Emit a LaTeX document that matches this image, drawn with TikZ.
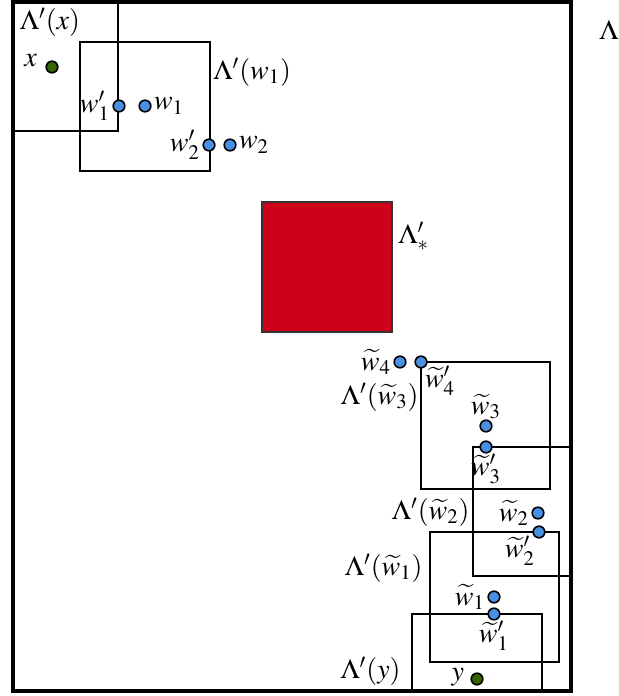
\documentclass[tikz,border=0pt]{standalone}
\usepackage{mathptmx}
\usetikzlibrary{positioning}
\definecolor{DotBlue}{RGB}{74, 144, 226}
\definecolor{DotGreen}{RGB}{51, 102, 0}
\definecolor{BlockRed}{RGB}{206, 0, 26}

\begin{document}
\begin{tikzpicture}[
    x=0.5pt, y=-0.5pt,
    font=\fontsize{14}{16}\selectfont,
    frame/.style={
        draw=black,
        line width=2pt             % Thick outer border
    },
    window/.style={
        draw=black,
        line width=0.9pt
    },
    block/.style={
        draw=black!80,
        fill=BlockRed,
        line width=0.7pt
    },
    bluedot/.style={
        circle,
        draw=black,
        fill=DotBlue,
        line width=0.8pt,
        minimum size=5.8pt,
        inner sep=0pt
    },
    greendot/.style={
        bluedot,
        fill=DotGreen
    },
    label_text/.style={
        inner sep=1pt,
        text=black
    }
]
    \useasboundingbox (0,0) rectangle (619,696);

    % --- 1. Windows ---
    \draw[window] (13,2) rectangle (118,131);     % Lambda'(x)
    \draw[window] (80,42) rectangle (210,171);    % Lambda'(w_1)
    \draw[window] (421,362) rectangle (550,489);  % Lambda'(w~_3)
    \draw[window] (473,447) rectangle (571,576);  % Lambda'(w~_2)
    \draw[window] (430,532) rectangle (559,662);  % Lambda'(w~_1)
    \draw[window] (412,614) rectangle (542,691);  % Lambda'(y)

    % --- 2. Central block and frame ---
    \draw[block] (262,202) rectangle (392,332);
    \draw[frame] (13,2) rectangle (571,691);

    % --- 3. Points ---
    \node[greendot] (x) at (52,67) {};
    \node[bluedot] (w1p) at (119,106) {};
    \node[bluedot] (w1) at (145,106) {};
    \node[bluedot] (w2p) at (209,145) {};
    \node[bluedot] (w2) at (230,145) {};

    \node[bluedot] (tw4) at (400,362) {};
    \node[bluedot] (tw4p) at (421,362) {};
    \node[bluedot] (tw3) at (486,426) {};
    \node[bluedot] (tw3p) at (486,447) {};
    \node[bluedot] (tw2) at (538,513) {};
    \node[bluedot] (tw2p) at (539,532) {};
    \node[bluedot] (tw1) at (494,597) {};
    \node[bluedot] (tw1p) at (494,614) {};
    \node[greendot] (y) at (477,679) {};

    % --- 4. Point labels ---
    \node[label_text, left=3pt of x, yshift=3pt] {$x$};
    \node[label_text, left=0pt of w1p] {$w'_1$};
    \node[label_text, right=0pt of w1] {$w_1$};
    \node[label_text, left=0pt of w2p] {$w'_2$};
    \node[label_text, right=0pt of w2] {$w_2$};

    \node[label_text, left=0pt of tw4] {$\widetilde{w}_4$};
    \node[label_text, below right=-1.5pt and -1.5pt of tw4p] {$\widetilde{w}'_4$};
    \node[label_text, above=-1pt of tw3] {$\widetilde{w}_3$};
    \node[label_text, below=-1pt of tw3p] {$\widetilde{w}'_3$};
    \node[label_text, left=0pt of tw2] {$\widetilde{w}_2$};
    \node[label_text, below left=-1.5pt and -1.5pt of tw2p] {$\widetilde{w}'_2$};
    \node[label_text, left=0pt of tw1] {$\widetilde{w}_1$};
    \node[label_text, below=-1pt of tw1p] {$\widetilde{w}'_1$};
    \node[label_text, left=2pt of y, yshift=1pt] {$y$};

    % --- 5. Window labels ---
    \node[label_text] (Lx) at (50,22) {$\Lambda'(x)$};
    \node[label_text, anchor=west] (Lw1) at (211,72) {$\Lambda'(w_1)$};
    \node[label_text, anchor=west] (Lstar) at (396,236) {$\Lambda'_*$};
    \node[label_text, anchor=east] (Ltw3) at (421,397) {$\Lambda'(\widetilde{w}_3)$};
    \node[label_text, anchor=east] (Ltw2) at (472,512) {$\Lambda'(\widetilde{w}_2)$};
    \node[label_text, anchor=east] (Ltw1) at (425,568) {$\Lambda'(\widetilde{w}_1)$};
    \node[label_text, anchor=east] (Ly) at (403,671) {$\Lambda'(y)$};
    \node[label_text] (L) at (609,30) {$\Lambda$};

\end{tikzpicture}
\end{document}
